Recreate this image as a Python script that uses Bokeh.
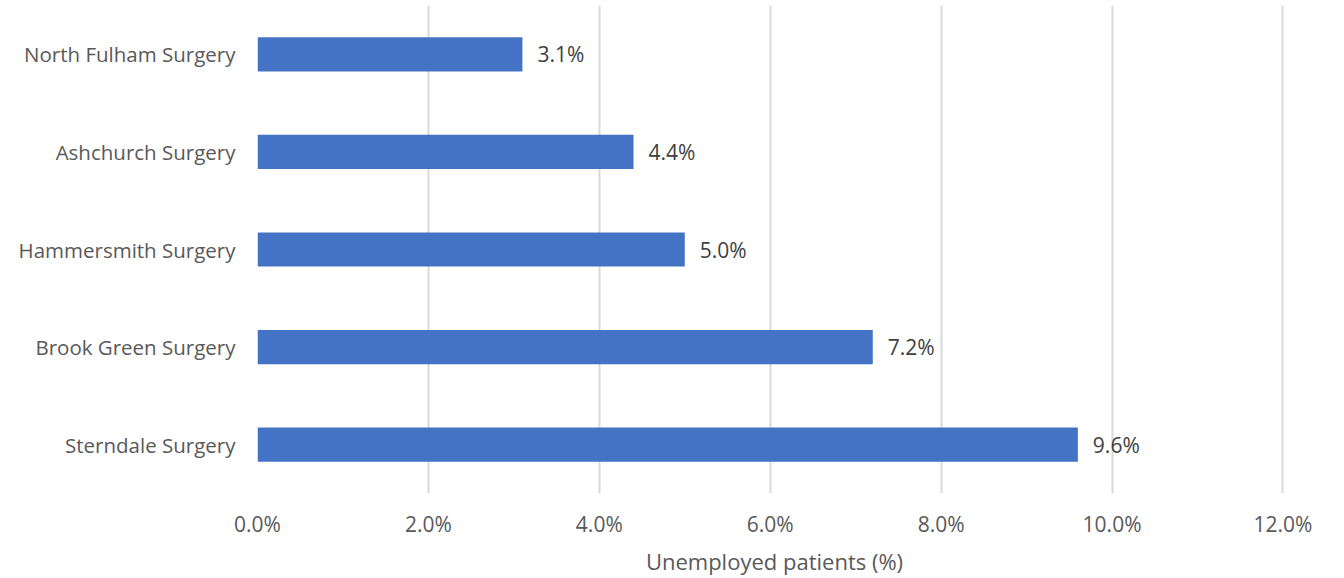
from bokeh.plotting import figure
from bokeh.models import ColumnDataSource, NumeralTickFormatter, FixedTicker, Range1d
from bokeh.core.properties import value
from bokeh.embed import file_html
from bokeh.resources import INLINE

surgeries = ["Sterndale Surgery", "Brook Green Surgery", "Hammersmith Surgery",
             "Ashchurch Surgery", "North Fulham Surgery"]
unemployed_pct = [9.6, 7.2, 5.0, 4.4, 3.1]
x_ticks = [0, 2, 4, 6, 8, 10, 12]

labels = [f"{v:.1f}%" for v in unemployed_pct]
src = ColumnDataSource(dict(cat=surgeries, val=unemployed_pct, lab=labels))

FONT = "Open Sans"
p = figure(y_range=surgeries, x_range=Range1d(0, 12.1), width=1320, height=578,
           output_backend="svg", toolbar_location=None,
           min_border_left=257, min_border_right=29, min_border_top=5, min_border_bottom=85)
p.outline_line_color = None
p.hbar(y="cat", right="val", height=0.35, source=src, color="#4472C4", line_color=None)
p.text(x="val", y="cat", text="lab", source=src, x_offset=15,
       text_baseline="middle", text_align="left", text_color="#404040",
       text_font=value(FONT), text_font_size="21px")

p.xaxis.ticker = FixedTicker(ticks=x_ticks)
p.xaxis.formatter = NumeralTickFormatter(format="0.0")
p.xaxis.major_label_overrides = {t: f"{t:.1f}%" for t in x_ticks}
p.xaxis.axis_label = "Unemployed patients (%)"
for ax in (p.xaxis, p.yaxis):
    ax.axis_line_color = None
    ax.major_tick_line_color = None
    ax.minor_tick_line_color = None
    ax.major_tick_out = 0
    ax.major_tick_in = 0
    ax.minor_tick_out = 0
    ax.major_label_text_font = FONT
    ax.major_label_text_color = "#595959"
p.xaxis.major_label_text_font_size = "21px"
p.yaxis.major_label_text_font_size = "20.5px"
p.xaxis.major_label_standoff = 16
p.yaxis.major_label_standoff = 22
p.xaxis.axis_label_text_font = FONT
p.xaxis.axis_label_text_font_size = "22px"
p.xaxis.axis_label_text_font_style = "normal"
p.xaxis.axis_label_text_color = "#595959"
p.xaxis.axis_label_standoff = 5
p.xgrid.grid_line_color = "#d9d9d9"
p.xgrid.grid_line_width = 2
p.ygrid.grid_line_color = None

open("out.html", "w").write(file_html(p, INLINE))
